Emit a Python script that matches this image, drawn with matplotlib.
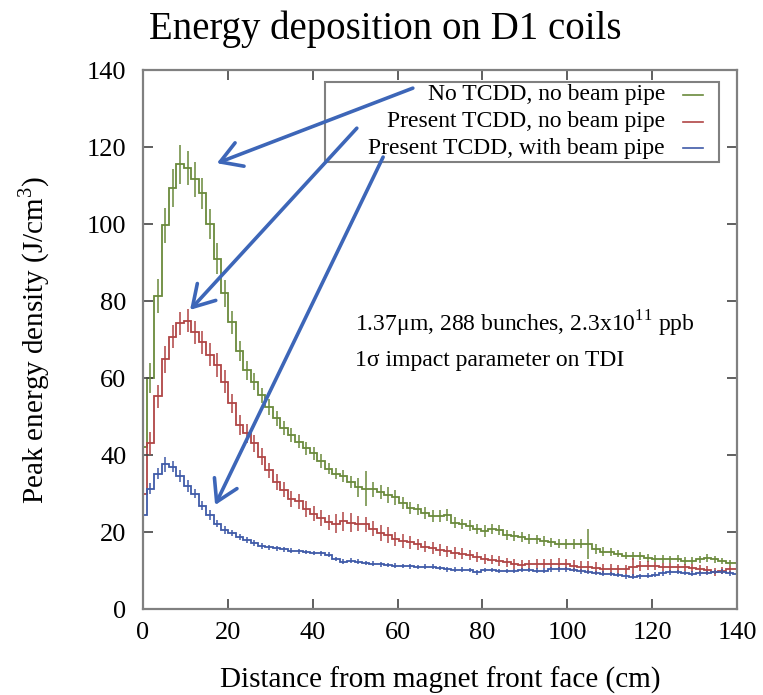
import numpy as np
import matplotlib
matplotlib.use("Agg")
import matplotlib.pyplot as plt
from matplotlib.lines import Line2D
from matplotlib.patches import Rectangle

plt.rcParams['font.family'] = ['Liberation Serif', 'DejaVu Serif']
plt.rcParams['mathtext.fontset'] = 'custom'
plt.rcParams['mathtext.rm'] = 'Liberation Serif'

# ---------------- data ----------------
bin_width = 1.75
n_bins = 81

green_vals = [42.0, 60.0, 81.3, 99.7, 109.3, 115.5, 114.6, 111.6, 108.0, 100.0,
              91.0, 82.0, 74.5, 67.0, 62.0, 59.0, 55.5, 52.5, 49.5, 47.0,
              45.2, 43.5, 41.7, 40.4, 38.5, 36.5, 35.2, 34.6, 33.0, 31.6,
              31.3, 31.1, 30.3, 29.6, 29.0, 27.5, 26.3, 25.9, 25.0, 24.2,
              24.2, 24.4, 22.4, 22.1, 21.6, 20.7, 20.2, 20.8, 20.4, 19.2,
              18.9, 18.6, 18.1, 18.1, 17.7, 17.3, 17.0, 16.9, 16.9, 17.0,
              16.9, 15.6, 14.9, 14.8, 14.4, 13.9, 13.7, 13.7, 13.3, 13.1,
              13.0, 12.9, 13.1, 12.5, 12.6, 12.9, 13.2, 12.9, 12.4, 12.0,
              11.9]
green_err = [3.0, 4.0, 4.5, 4.5, 5.0, 5.0, 4.5, 4.5, 4.0, 4.0,
             4.0, 3.5, 3.0, 2.5, 2.5, 2.2, 2.0, 2.0, 2.0, 1.8,
             1.8, 1.8, 1.8, 1.8, 1.8, 1.5, 1.5, 1.5, 1.5, 2.5,
             4.5, 2.0, 1.8, 2.0, 2.0, 1.5, 1.5, 1.5, 1.5, 1.5,
             1.5, 1.5, 1.4, 1.4, 1.4, 1.3, 1.5, 1.3, 1.3, 1.3,
             1.3, 1.3, 1.3, 1.2, 1.2, 1.2, 1.2, 1.2, 1.2, 1.2,
             4.0, 1.2, 1.2, 1.0, 1.0, 1.0, 1.0, 1.0, 1.0, 1.0,
             1.0, 1.0, 1.0, 1.0, 1.0, 1.0, 1.0, 1.0, 0.8, 0.8,
             0.8]

red_vals = [30.0, 43.0, 55.3, 64.9, 70.7, 74.2, 74.9, 71.9, 69.3, 66.0,
            63.4, 59.0, 53.4, 47.8, 45.6, 43.0, 39.5, 36.0, 33.0, 31.0,
            28.6, 28.0, 26.0, 24.8, 23.6, 22.5, 22.2, 22.8, 22.4, 22.2,
            22.0, 20.9, 19.8, 19.2, 18.1, 17.6, 17.3, 16.8, 16.2, 15.8,
            15.3, 15.0, 14.6, 14.4, 14.1, 13.5, 12.9, 12.8, 12.5, 12.1,
            11.7, 11.5, 11.6, 11.7, 11.8, 11.8, 11.7, 11.6, 11.3, 11.0,
            10.9, 10.6, 10.5, 10.4, 10.3, 10.3, 10.8, 11.2, 11.3, 11.1,
            11.0, 10.9, 10.8, 10.8, 10.7, 10.4, 10.2, 9.7, 10.0, 10.3,
            10.4]
red_err = [2.5, 3.0, 3.0, 3.5, 3.0, 3.0, 3.0, 3.0, 3.0, 3.0,
           3.0, 3.0, 2.5, 2.5, 2.5, 2.2, 2.2, 2.0, 2.0, 2.0,
           2.0, 2.0, 2.0, 2.0, 2.0, 2.0, 2.5, 2.5, 2.5, 2.0,
           2.0, 2.0, 2.0, 2.0, 1.8, 1.8, 1.6, 1.5, 1.5, 1.5,
           1.5, 1.5, 1.5, 1.5, 1.3, 1.3, 1.3, 1.2, 1.2, 1.2,
           1.2, 1.2, 1.2, 1.2, 1.2, 1.2, 1.5, 1.5, 1.5, 1.5,
           1.5, 1.5, 1.2, 1.2, 1.2, 1.2, 2.5, 1.2, 1.2, 1.0,
           1.0, 1.0, 1.0, 1.0, 1.0, 1.0, 1.0, 1.0, 1.0, 1.0,
           1.0]

blue_vals = [24.4, 31.3, 35.2, 37.6, 37.0, 34.5, 31.9, 30.0, 26.8, 24.4,
             22.2, 20.5, 19.7, 18.8, 17.9, 17.1, 16.4, 16.0, 15.8, 15.5,
             15.2, 15.0, 14.8, 14.6, 14.5, 14.1, 13.0, 12.3, 12.6, 12.3,
             12.0, 11.8, 11.6, 11.4, 11.3, 11.2, 11.1, 10.9, 11.0, 11.0,
             10.7, 10.3, 10.2, 10.2, 10.1, 9.5, 10.1, 10.1, 9.9, 9.9,
             9.9, 10.1, 10.1, 10.0, 10.0, 10.3, 10.3, 10.3, 10.1, 9.8,
             9.6, 9.4, 9.2, 9.1, 8.8, 8.5, 8.4, 8.5, 8.7, 8.9,
             9.3, 9.5, 9.6, 9.4, 9.2, 9.3, 9.4, 9.6, 9.7, 9.3,
             9.2]
blue_err = [1.5, 1.5, 1.5, 2.0, 1.5, 1.5, 1.5, 1.2, 1.2, 1.2,
            1.0, 1.0, 0.8, 0.8, 0.8, 0.8, 0.7, 0.7, 0.7, 0.7,
            0.6, 0.6, 0.6, 0.6, 0.6, 0.6, 0.6, 0.6, 0.6, 0.6,
            0.6, 0.6, 0.6, 0.6, 0.6, 0.6, 0.6, 0.6, 0.6, 0.6,
            0.6, 0.6, 0.6, 0.6, 0.6, 0.6, 0.6, 0.6, 0.6, 0.6,
            0.6, 0.6, 0.6, 0.6, 0.6, 0.6, 0.6, 0.6, 0.6, 0.6,
            0.6, 0.6, 0.6, 0.6, 0.6, 0.6, 0.6, 0.6, 0.6, 0.6,
            0.6, 0.6, 0.6, 0.6, 0.6, 0.6, 0.6, 0.6, 0.6, 0.6,
            0.6]

labels = ["No TCDD, no beam pipe", "Present TCDD, no beam pipe",
          "Present TCDD, with beam pipe"]
colors = ["#6a8a3c", "#b04545", "#3f5aa8"]
x_ticks = [0, 20, 40, 60, 80, 100, 120, 140]
y_ticks = [0, 20, 40, 60, 80, 100, 120, 140]

# ---------------- figure ----------------
centers = np.arange(n_bins) * bin_width
edges = np.append(centers - bin_width / 2, centers[-1] + bin_width / 2)

fig = plt.figure(figsize=(7.63, 6.95), dpi=100)
ax = fig.add_axes([0.1874, 0.1237, 0.7785, 0.7755])

for vals, errs, col in zip([green_vals, red_vals, blue_vals],
                           [green_err, red_err, blue_err], colors):
    ax.stairs(vals, edges, baseline=None, color=col, lw=1.3)
    ax.errorbar(centers, vals, yerr=errs, fmt='none', ecolor=col,
                elinewidth=1.3, capsize=0, alpha=0.85)

ax.set_xlim(0, 140)
ax.set_ylim(0, 140)
ax.set_xticks(x_ticks)
ax.set_yticks(y_ticks)
ax.tick_params(direction='in', length=7, width=1.2, top=True, right=True,
               labelsize=19, color='#444444')
ax.tick_params(axis='y', pad=12)
ax.tick_params(axis='x', pad=9)
for s in ax.spines.values():
    s.set_color('#808080')
    s.set_linewidth(1.6)

ax.set_xlabel("Distance from magnet front face (cm)", fontsize=21, labelpad=17)
ax.set_ylabel("Peak energy density (J/cm$^3$)", fontsize=21, labelpad=25)

fig.text(0.505, 0.958, "Energy deposition on D1 coils", ha='center',
         va='center', fontsize=28)

# legend drawn manually (right-aligned text)
ax.add_patch(Rectangle((0.306, 0.829), 0.664, 0.149, transform=ax.transAxes,
                       facecolor='white', edgecolor='#808080', lw=1.5,
                       zorder=6))
row_y = [0.954, 0.904, 0.855]
for lab, col, yy in zip(labels, colors, row_y):
    ax.text(0.879, yy, lab, transform=ax.transAxes, ha='right', va='center',
            fontsize=17, zorder=7)
    ax.add_line(Line2D([0.909, 0.943], [yy, yy], transform=ax.transAxes,
                       color=col, lw=1.2, zorder=7))

ax.text(0.357, 0.529, "1.37\u03bcm, 288 bunches, 2.3x10$^{11}$ ppb",
        transform=ax.transAxes, ha='left', va='center', fontsize=17)
ax.text(0.357, 0.462, "1\u03c3 impact parameter on TDI",
        transform=ax.transAxes, ha='left', va='center', fontsize=17)

arrow_kw = dict(arrowstyle='->,head_length=0.75,head_width=0.45',
                color='#3d66b8', lw=2.6, shrinkA=0, shrinkB=0,
                mutation_scale=20)
arrows = [((63.6, 135.3), (17.4, 115.8)),
          ((50.4, 124.9), (11.1, 77.7)),
          ((56.6, 117.4), (17.0, 27.0))]
for start, end in arrows:
    ax.annotate('', xy=end, xytext=start, arrowprops=arrow_kw,
                annotation_clip=False, zorder=10)

fig.savefig("out.png", dpi=100)
